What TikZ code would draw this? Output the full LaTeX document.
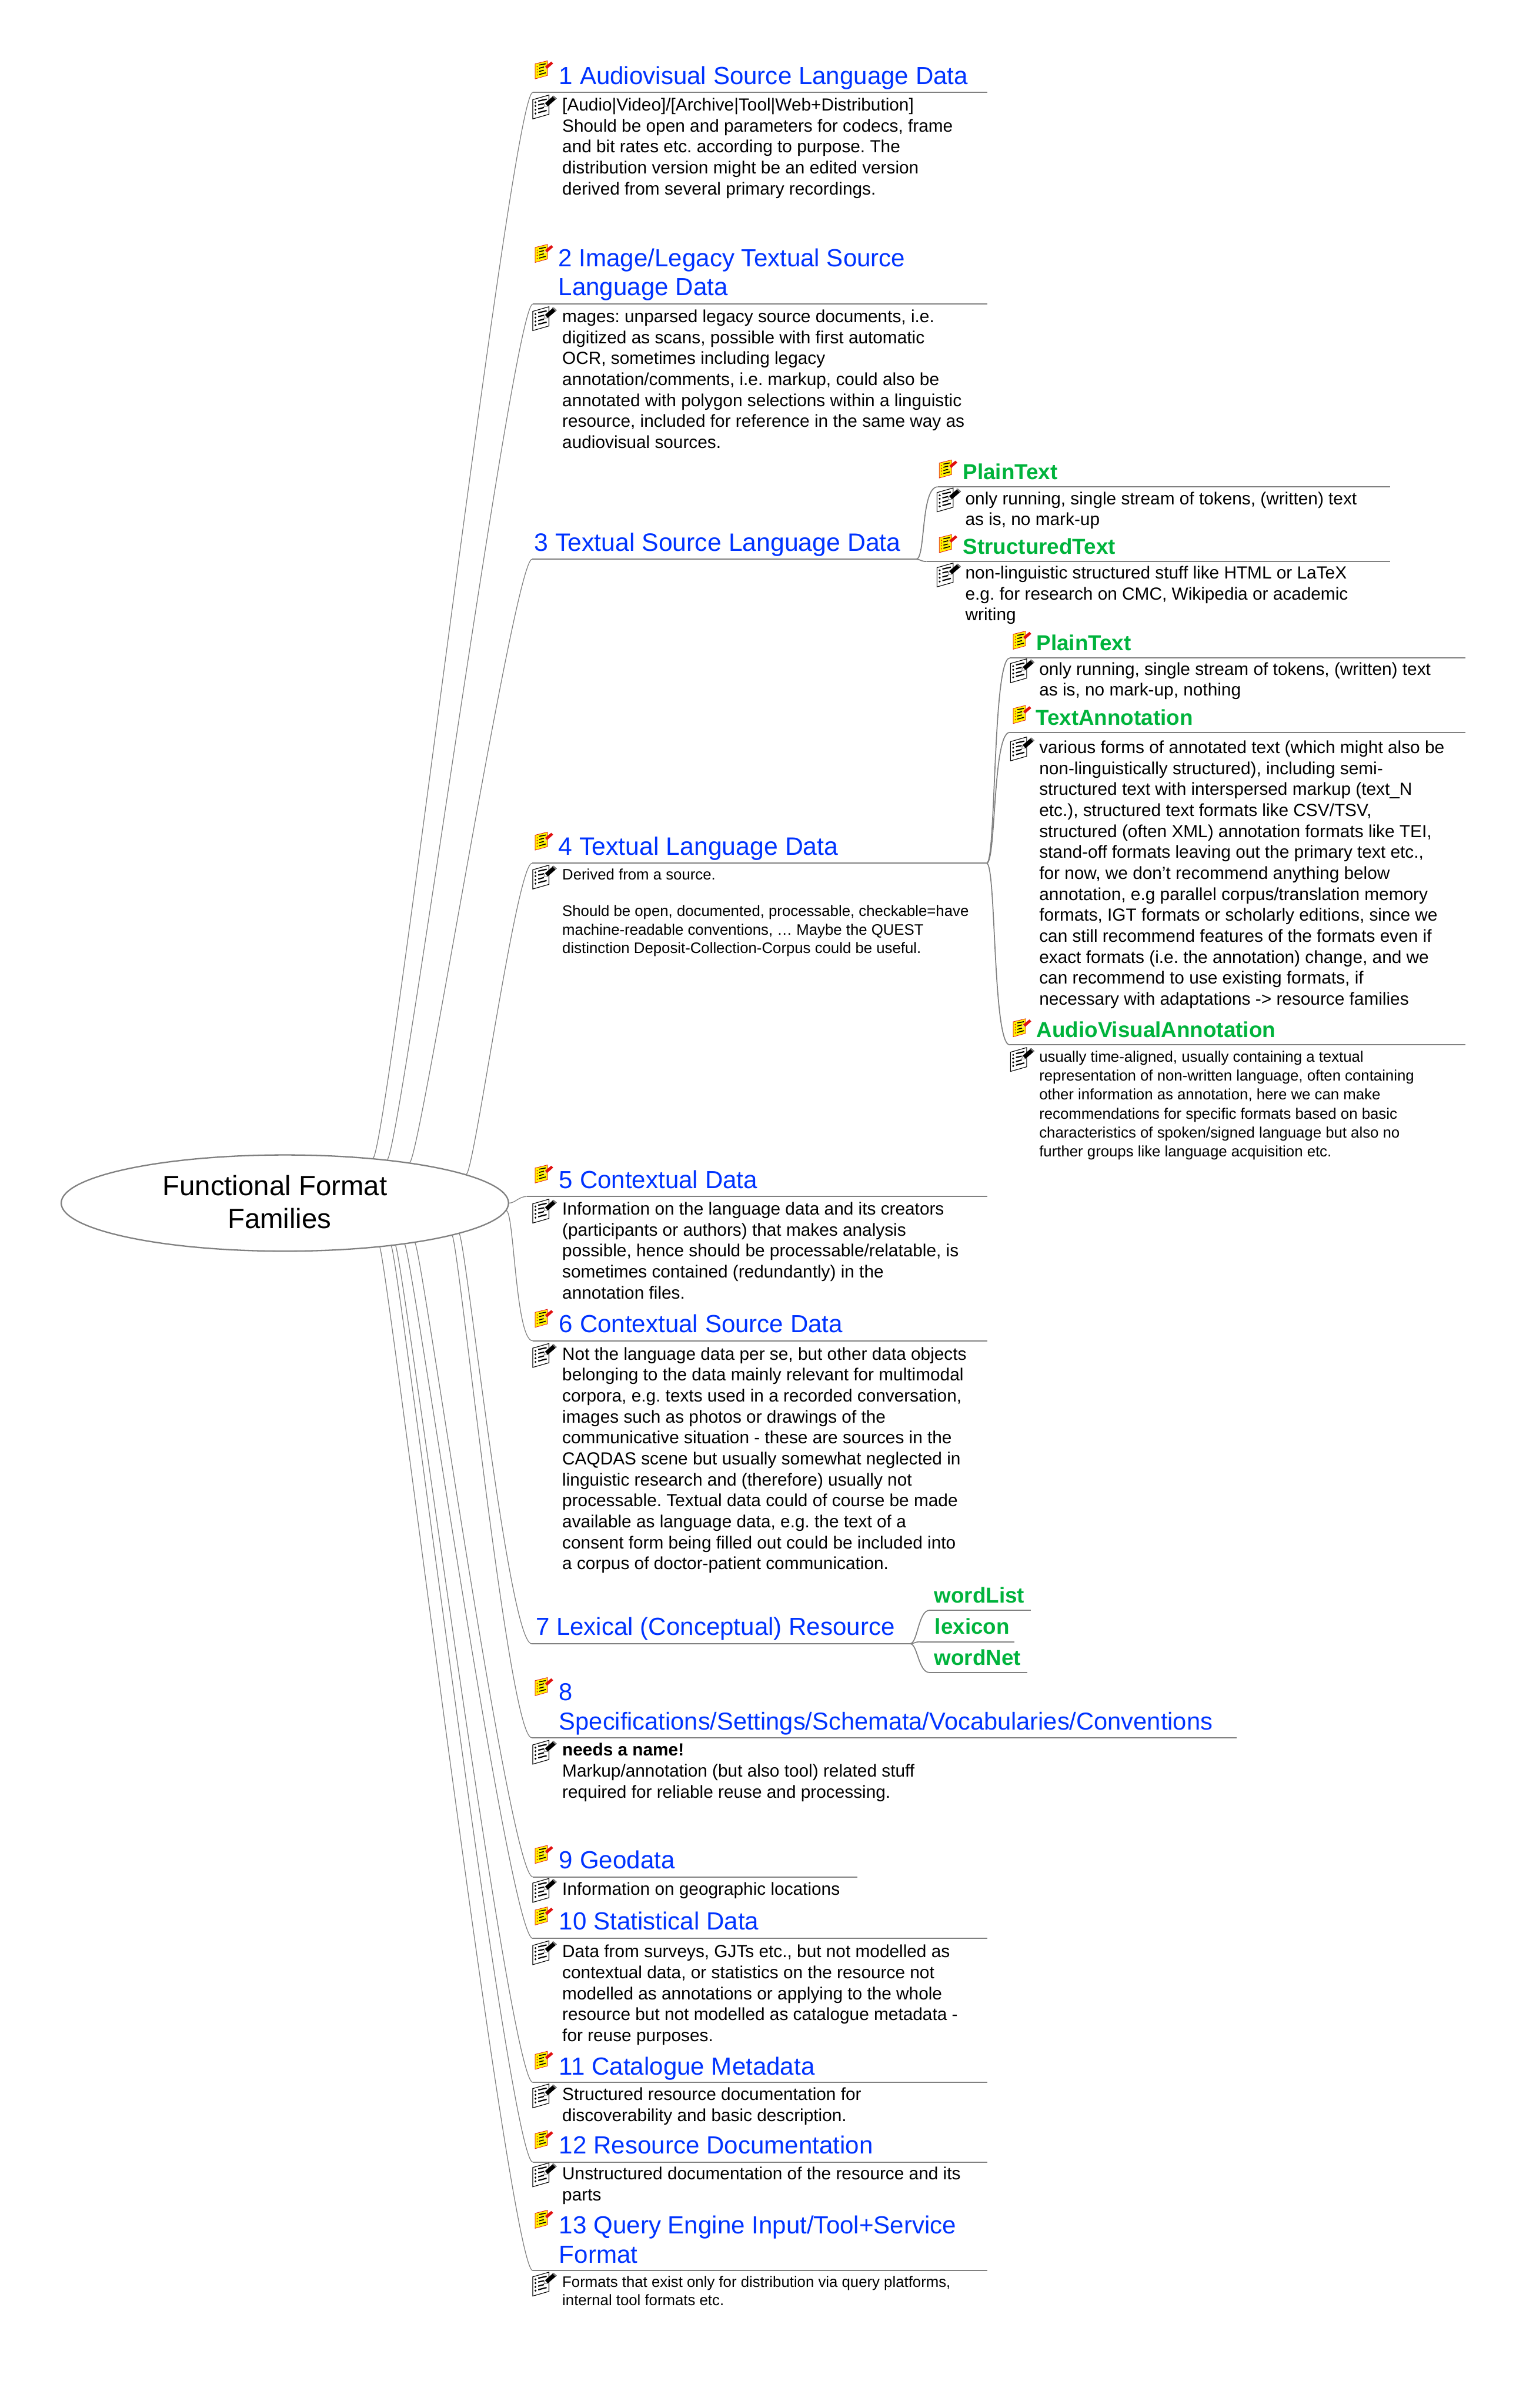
\documentclass[tikz,border=0pt]{standalone}
\usepackage{fontspec}
\setmainfont{Liberation Sans}
\usetikzlibrary{calc,shapes.geometric}
\definecolor{konuMavi}{HTML}{0033FF}
\definecolor{altYesil}{HTML}{00B33C}
\definecolor{cizgiGri}{HTML}{808080}
\definecolor{kalemKirmizi}{HTML}{E01010}
\frenchspacing
\tikzset{
  rootshape/.style={draw=cizgiGri,line width=1pt,ellipse,minimum width=11.62cm,minimum height=2.5cm,inner sep=0pt},
  roottext/.style={anchor=north,inner sep=0pt,align=center,yshift=.59cm,font=\fontsize{20.6}{24}\selectfont},
  topictext/.style={anchor=north west,inner sep=0pt,align=left,yshift=.53cm,text=konuMavi,font=\fontsize{18.3}{21.5}\selectfont},
  subtext/.style={anchor=north west,inner sep=0pt,align=left,yshift=.444cm,text=altYesil,font=\bfseries\fontsize{16}{18}\selectfont},
  notetext/.style={anchor=north west,inner sep=0pt,align=left,yshift=.381cm,font=\fontsize{12.95}{15.5}\selectfont},
  smalltext/.style={anchor=north west,inner sep=0pt,align=left,yshift=.335cm,font=\fontsize{11.2}{13.6}\selectfont},
  tinytext/.style={anchor=north west,inner sep=0pt,align=left,yshift=.345cm,font=\fontsize{11.2}{14}\selectfont},
  conn/.style={draw=cizgiGri,line width=.55pt},
  subconn/.style={draw=cizgiGri,line width=.75pt},
  rulerline/.style={draw=cizgiGri,line width=.9pt},
  branch/.style 2 args={to path={.. controls ($(\tikztostart)+(#1,0)$) and ($(\tikztotarget)+(-#2,0)$) .. (\tikztotarget)}},
  penyellow/.pic={
    \begin{scope}[x=.01cm,y=-.01cm]
    \filldraw[draw=kalemKirmizi,fill=yellow,line width=.35pt] (0,8)--(32,0)--(32,38)--(0,47)--cycle;
    \fill[kalemKirmizi] (5.7,15) circle (1.8) (5.7,22) circle (1.8) (5.7,29) circle (1.8) (5.7,37) circle (1.8);
    \draw[black,line width=.7pt] (10.7,11)--(28,7.7) (10.7,19.3)--(23,16) (10.7,27.7)--(23,24.3) (10.7,35.7)--(28,31);
    \fill[yellow!60!brown!60] (21.5,24)--(26,15)--(31,21)--cycle;
    \fill[kalemKirmizi] (26,15)--(42,2)--(47,7)--(31,21)--cycle;
    \end{scope}
  },
  penwhite/.pic={
    \begin{scope}[x=.01cm,y=-.01cm]
    \filldraw[draw=black,fill=white,line width=.5pt] (0,12)--(42,0)--(42,50)--(0,62)--cycle;
    \fill[black] (7,19) circle (2.8) (7,28.3) circle (2.8) (7,38.3) circle (2.8) (7,48) circle (2.8);
    \draw[black,line width=.95pt] (14,15.7)--(36,10.7) (14,25.7)--(29,22.3) (14,36.3)--(29,32.3) (14,45.7)--(36,40);
    \filldraw[draw=gray,fill=white,line width=.4pt] (29,30)--(32,20.7)--(39,29)--cycle;
    \fill[black] (32,20.7)--(54,1.7)--(62.3,9)--(39,29)--cycle;
    \fill[gray] (50,2.5)--(54,1.7)--(62.3,9)--(59,11.5)--cycle;
    \end{scope}
  }
}
\begin{document}
\begin{tikzpicture}[x=1cm,y=-1cm]
\useasboundingbox (0,0) rectangle (39.63,62.57);
% central ellipse
\node[rootshape] (root) at (7.40,31.26) {};
\node[roottext] (rootlabel) at (7.14,31.06) {\strut Functional Format\\\hspace*{.24cm}Families};
% rule ends of the main topics
\coordinate (s1) at (13.84,2.40); \coordinate (e1) at (25.65,2.40);
\coordinate (s2) at (13.84,7.90); \coordinate (e2) at (25.65,7.90);
\coordinate (s3) at (13.82,14.53); \coordinate (e3) at (23.80,14.53);
\coordinate (s4) at (13.82,22.43); \coordinate (e4) at (25.63,22.43);
\coordinate (s5) at (13.68,31.09); \coordinate (e5) at (25.65,31.09);
\coordinate (s6) at (13.84,34.84); \coordinate (e6) at (25.65,34.84);
\coordinate (s7) at (13.81,42.71); \coordinate (e7) at (23.64,42.71);
\coordinate (s8) at (13.81,45.15); \coordinate (e8) at (32.13,45.15);
\coordinate (s9) at (13.84,48.77); \coordinate (e9) at (22.27,48.77);
\coordinate (s10) at (13.84,50.37); \coordinate (e10) at (25.65,50.37);
\coordinate (s11) at (13.84,54.11); \coordinate (e11) at (25.65,54.11);
\coordinate (s12) at (13.84,56.18); \coordinate (e12) at (25.65,56.18);
\coordinate (s13) at (13.84,59.00); \coordinate (e13) at (25.65,59.00);
% branches out of the ellipse
\draw[conn] (root.27.4) to[branch={.35}{.55}] (s1);
\draw[conn] (root.23) to[branch={.3}{.5}] (s2);
\draw[conn] (root.18.2) to[branch={.25}{.45}] (s3);
\draw[conn] (root.9.2) to[branch={.2}{.4}] (s4);
\draw[conn] (root.0.6) to[branch={.15}{.2}] (s5);
\draw[conn] (root.-2.9) to[branch={.2}{.45}] (s6);
\draw[conn] (root.-10) to[branch={.15}{.6}] (s7);
\draw[conn] (root.-11.6) to[branch={.15}{.6}] (s8);
\draw[conn] (root.-17.9) to[branch={.15}{.6}] (s9);
\draw[conn] (root.-19) to[branch={.15}{.6}] (s10);
\draw[conn] (root.-21) to[branch={.15}{.6}] (s11);
\draw[conn] (root.-22.8) to[branch={.15}{.6}] (s12);
\draw[conn] (root.-25) to[branch={.15}{.6}] (s13);
\draw[rulerline] (s1)--(e1);
\draw[rulerline] (s2)--(e2);
\draw[rulerline] (s3)--(e3);
\draw[rulerline] (s4)--(e4);
\draw[rulerline] (s5)--(e5);
\draw[rulerline] (s6)--(e6);
\draw[rulerline] (s7)--(e7);
\draw[rulerline] (s8)--(e8);
\draw[rulerline] (s9)--(e9);
\draw[rulerline] (s10)--(e10);
\draw[rulerline] (s11)--(e11);
\draw[rulerline] (s12)--(e12);
\draw[rulerline] (s13)--(e13);
% topic 1
\pic at (13.90,1.58) {penyellow};
\node[topictext] (t1) at (14.52,2.18) {\strut 1 Audiovisual Source Language Data};
\pic at (13.84,2.47) {penwhite};
\node[notetext] (n1) at (14.60,2.87) {\strut [Audio|Video]/[Archive|Tool|Web+Distribution]\\Should be open and parameters for codecs, frame\\and bit rates etc. according to purpose. The\\distribution version might be an edited version\\derived from several primary recordings.};
% topic 2
\pic at (13.90,6.35) {penyellow};
\node[topictext] (t2) at (14.50,6.92) {\strut 2 Image/Legacy Textual Source\\Language Data};
\pic at (13.84,7.97) {penwhite};
\node[notetext] (n2) at (14.60,8.37) {\strut mages: unparsed legacy source documents, i.e.\\digitized as scans, possible with first automatic\\OCR, sometimes including legacy\\annotation/comments, i.e. markup, could also be\\annotated with polygon selections within a linguistic\\resource, included for reference in the same way as\\audiovisual sources.};
% topic 3
\node[topictext,font=\fontsize{18.6}{21.5}\selectfont] (t3) at (13.87,14.31) {\strut 3 Textual Source Language Data};
\coordinate (p3) at (24.36,12.65); \coordinate (pe3) at (36.11,12.65);
\coordinate (q3) at (24.07,14.59); \coordinate (qe3) at (36.11,14.59);
\draw[subconn] (e3) to[branch={.25}{.45}] (p3);
\draw[subconn] (e3) to[branch={.1}{.15}] (q3);
\draw[rulerline] (p3)--(pe3);
\draw[rulerline] (q3)--(qe3);
\pic at (24.40,11.95) {penyellow};
\node[subtext] (t3a) at (25.01,12.45) {\strut PlainText};
\pic at (24.34,12.68) {penwhite};
\node[notetext] (n3a) at (25.07,13.10) {\strut only running, single stream of tokens, (written) text\\as is, no mark-up};
\pic at (24.40,13.89) {penyellow};
\node[subtext] (t3b) at (25.01,14.39) {\strut StructuredText};
\pic at (24.34,14.63) {penwhite};
\node[notetext] (n3b) at (25.07,15.03) {\strut non-linguistic structured stuff like HTML or LaTeX\\e.g. for research on CMC, Wikipedia or academic\\writing};
% topic 4
\pic at (13.90,21.62) {penyellow};
\node[topictext,font=\fontsize{18.6}{21.5}\selectfont] (t4) at (14.50,22.21) {\strut 4 Textual Language Data};
\pic at (13.84,22.48) {penwhite};
\node[smalltext] (n4) at (14.60,22.85) {\strut Derived from a source.\\[13.6pt]Should be open, documented, processable, checkable=have\\machine-readable conventions, … Maybe the QUEST\\distinction Deposit-Collection-Corpus could be useful.};
\coordinate (p4) at (26.23,17.10); \coordinate (pe4) at (38.07,17.10);
\coordinate (q4) at (26.23,19.03); \coordinate (qe4) at (38.07,19.03);
\coordinate (r4) at (26.23,27.15); \coordinate (re4) at (38.07,27.15);
\draw[subconn] (e4) to[branch={.25}{.45}] (p4);
\draw[subconn] (e4) to[branch={.25}{.45}] (q4);
\draw[subconn] (e4) to[branch={.25}{.45}] (r4);
\draw[rulerline] (p4)--(pe4);
\draw[rulerline] (q4)--(qe4);
\draw[rulerline] (r4)--(re4);
\pic at (26.32,16.40) {penyellow};
\node[subtext] (t4a) at (26.92,16.90) {\strut PlainText};
\pic at (26.25,17.12) {penwhite};
\node[notetext] (n4a) at (26.99,17.53) {\strut only running, single stream of tokens, (written) text\\as is, no mark-up, nothing};
\pic at (26.32,18.33) {penyellow};
\node[subtext] (t4b) at (26.90,18.84) {\strut TextAnnotation};
\pic at (26.25,19.15) {penwhite};
\node[notetext] (n4b) at (26.99,19.57) {\strut various forms of annotated text (which might also be\\non-linguistically structured), including semi-\\structured text with interspersed markup (text\_N\\etc.), structured text formats like CSV/TSV,\\structured (often XML) annotation formats like TEI,\\stand-off formats leaving out the primary text etc.,\\for now, we don’t recommend anything below\\annotation, e.g parallel corpus/translation memory\\formats, IGT formats or scholarly editions, since we\\can still recommend features of the formats even if\\exact formats (i.e. the annotation) change, and we\\can recommend to use existing formats, if\\necessary with adaptations -> resource families};
\pic at (26.32,26.47) {penyellow};
\node[subtext] (t4c) at (26.92,26.95) {\strut AudioVisualAnnotation};
\pic at (26.25,27.22) {penwhite};
\node[tinytext] (n4c) at (26.99,27.59) {\strut usually time-aligned, usually containing a textual\\representation of non-written language, often containing\\other information as annotation, here we can make\\recommendations for specific formats based on basic\\characteristics of spoken/signed language but also no\\further groups like language acquisition etc.};
% topic 5
\pic at (13.90,30.27) {penyellow};
\node[topictext] (t5) at (14.52,30.87) {\strut 5 Contextual Data};
\pic at (13.84,31.16) {penwhite};
\node[notetext] (n5) at (14.60,31.56) {\strut Information on the language data and its creators\\(participants or authors) that makes analysis\\possible, hence should be processable/relatable, is\\sometimes contained (redundantly) in the\\annotation files.};
% topic 6
\pic at (13.90,34.02) {penyellow};
\node[topictext] (t6) at (14.52,34.62) {\strut 6 Contextual Source Data};
\pic at (13.84,34.91) {penwhite};
\node[notetext] (n6) at (14.60,35.33) {\strut Not the language data per se, but other data objects\\belonging to the data mainly relevant for multimodal\\corpora, e.g. texts used in a recorded conversation,\\images such as photos or drawings of the\\communicative situation - these are sources in the\\CAQDAS scene but usually somewhat neglected in\\linguistic research and (therefore) usually not\\processable. Textual data could of course be made\\available as language data, e.g. the text of a\\consent form being filled out could be included into\\a corpus of doctor-patient communication.};
% topic 7
\node[topictext] (t7) at (13.91,42.49) {\strut 7 Lexical (Conceptual) Resource};
\coordinate (p7) at (24.15,41.84); \coordinate (pe7) at (26.78,41.84);
\coordinate (q7) at (23.91,42.66); \coordinate (qe7) at (26.35,42.66);
\coordinate (r7) at (24.15,43.46); \coordinate (re7) at (26.68,43.46);
\draw[subconn] (e7) to[branch={.2}{.3}] (p7);
\draw[subconn] (e7) to[branch={.1}{.15}] (q7);
\draw[subconn] (e7) to[branch={.2}{.3}] (r7);
\draw[rulerline] (p7)--(pe7);
\draw[rulerline] (q7)--(qe7);
\draw[rulerline] (r7)--(re7);
\node[subtext] (t7a) at (24.26,41.64) {\strut wordList};
\node[subtext] (t7b) at (24.28,42.45) {\strut lexicon};
\node[subtext] (t7c) at (24.26,43.27) {\strut wordNet};
% topic 8
\pic at (13.90,43.59) {penyellow};
\node[topictext,font=\fontsize{18.1}{21.5}\selectfont] (t8) at (14.52,44.18) {\strut 8\\Specifications/Settings/Schemata/Vocabularies/Conventions};
\pic at (13.84,45.22) {penwhite};
\node[notetext] (n8) at (14.60,45.62) {\strut \textbf{needs a name!}\\Markup/annotation (but also tool) related stuff\\required for reliable reuse and processing.};
% topic 9
\pic at (13.90,47.95) {penyellow};
\node[topictext] (t9) at (14.52,48.55) {\strut 9 Geodata};
\pic at (13.84,48.81) {penwhite};
\node[notetext] (n9) at (14.60,49.24) {\strut Information on geographic locations};
% topic 10
\pic at (13.90,49.55) {penyellow};
\node[topictext] (t10) at (14.52,50.13) {\strut 10 Statistical Data};
\pic at (13.84,50.43) {penwhite};
\node[notetext] (n10) at (14.60,50.86) {\strut Data from surveys, GJTs etc., but not modelled as\\contextual data, or statistics on the resource not\\modelled as annotations or applying to the whole\\resource but not modelled as catalogue metadata -\\for reuse purposes.};
% topic 11
\pic at (13.90,53.30) {penyellow};
\node[topictext] (t11) at (14.52,53.91) {\strut 11 Catalogue Metadata};
\pic at (13.84,54.15) {penwhite};
\node[notetext] (n11) at (14.60,54.57) {\strut Structured resource documentation for\\discoverability and basic description.};
% topic 12
\pic at (13.90,55.36) {penyellow};
\node[topictext] (t12) at (14.52,55.95) {\strut 12 Resource Documentation};
\pic at (13.84,56.20) {penwhite};
\node[notetext] (n12) at (14.60,56.63) {\strut Unstructured documentation of the resource and its\\parts};
% topic 13
\pic at (13.90,57.43) {penyellow};
\node[topictext] (t13) at (14.52,58.04) {\strut 13 Query Engine Input/Tool+Service\\Format};
\pic at (13.84,59.04) {penwhite};
\node[smalltext] (n13) at (14.60,59.42) {\strut Formats that exist only for distribution via query platforms,\\internal tool formats etc.};
\end{tikzpicture}
\end{document}
